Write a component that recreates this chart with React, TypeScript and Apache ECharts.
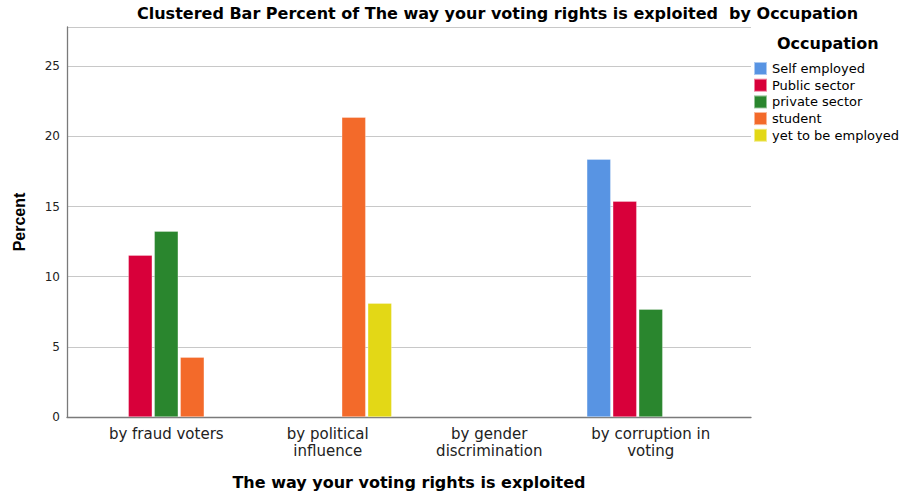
import React, { useEffect, useRef } from "react";
import * as echarts from "echarts";

const categories = ["by fraud voters", "by political\ninfluence", "by gender\ndiscrimination", "by corruption in\nvoting"];
const seriesNames = ["Self employed", "Public sector", "private sector", "student", "yet to be employed"];
const colors = ["#5894e3", "#d8003a", "#2a862e", "#f36a2a", "#e3d816"];
const selfEmployed = [null, null, null, 18.38];
const publicSector = [11.54, null, null, 15.38];
const privateSector = [13.25, null, null, 7.69];
const student = [4.27, 21.37, null, null];
const yetToBeEmployed = [null, 8.12, null, null];
const seriesData = [selfEmployed, publicSector, privateSector, student, yetToBeEmployed];
const yTicks = [0, 5, 10, 15, 20, 25];

export default function App() {
  const ref = useRef<HTMLDivElement>(null);
  useEffect(() => {
    if (!ref.current) return;
    const chart = echarts.init(ref.current, null, { renderer: "svg" });
    const yMax = 27.8;
    chart.setOption({
      animation: false,
      backgroundColor: "#ffffff",
      title: [
        {
          text: "Clustered Bar Percent of The way your voting rights is exploited  by Occupation",
          left: 137,
          top: 5,
          padding: 0,
          textStyle: { fontFamily: "DejaVu Sans", fontWeight: "bold", fontSize: 16, color: "#000" },
        },
        {
          text: "Occupation",
          left: 777,
          top: 35,
          padding: 0,
          textStyle: { fontFamily: "DejaVu Sans", fontWeight: "bold", fontSize: 16, color: "#000" },
        },
      ],
      legend: {
        orient: "vertical",
        left: 753,
        top: 61,
        padding: 0,
        itemWidth: 13,
        itemHeight: 13,
        itemGap: 1.7,
        icon: "rect",
        data: seriesNames,
        textStyle: { fontFamily: "DejaVu Sans", fontSize: 13, color: "#000" },
      },
      grid: [
        { left: 67, right: 155, top: 27, bottom: 78, containLabel: false },
        { left: 85.5, right: 174.5, top: 27, bottom: 78, containLabel: false },
      ],
      xAxis: [
        {
          type: "value",
          gridIndex: 0,
          min: 0,
          max: 1,
          axisLine: { show: true, onZero: false, lineStyle: { color: "#7a7a7a", width: 1.3 } },
          axisTick: { show: false },
          axisLabel: { show: false },
          splitLine: { show: false },
          name: "The way your voting rights is exploited",
          nameLocation: "middle",
          nameGap: 57,
          nameTextStyle: { fontFamily: "DejaVu Sans", fontWeight: "bold", fontSize: 16, color: "#000" },
        },
        {
          type: "category",
          gridIndex: 1,
          data: categories,
          axisLine: { show: false },
          axisTick: { show: false },
          axisLabel: {
            fontFamily: "DejaVu Sans",
            fontSize: 15,
            color: "#222",
            lineHeight: 17,
            margin: 8,
          },
        },
      ],
      yAxis: [
        {
          type: "value",
          gridIndex: 0,
          min: 0,
          max: yMax,
          interval: 5,
          axisLine: { show: true, lineStyle: { color: "#7a7a7a", width: 1.3 } },
          axisTick: { show: false },
          axisLabel: {
            fontFamily: "DejaVu Sans",
            fontSize: 12,
            color: "#222",
            margin: 7,
            formatter: (v: number) => (yTicks.includes(v) ? String(v) : ""),
          },
          splitLine: { show: true, lineStyle: { color: "#c8c8c8", width: 1 } },
          name: "Percent",
          nameLocation: "middle",
          nameGap: 40,
          nameRotate: 90,
          nameTextStyle: { fontFamily: "Liberation Sans", fontWeight: "bold", fontSize: 16, color: "#000" },
        },
        {
          type: "value",
          gridIndex: 1,
          min: 0,
          max: yMax,
          show: false,
        },
      ],
      series: seriesNames.map((name, i) => ({
        name,
        type: "bar",
        xAxisIndex: 1,
        yAxisIndex: 1,
        data: seriesData[i],
        barWidth: 24,
        barGap: "8.3%",
        itemStyle: { color: colors[i], borderColor: "rgba(255,255,255,0.5)", borderWidth: 0.6 },
      })),
    });
    return () => chart.dispose();
  }, []);
  return <div ref={ref} style={{ width: 906, height: 495, position: "absolute", left: 0, top: 0 }} />;
}
